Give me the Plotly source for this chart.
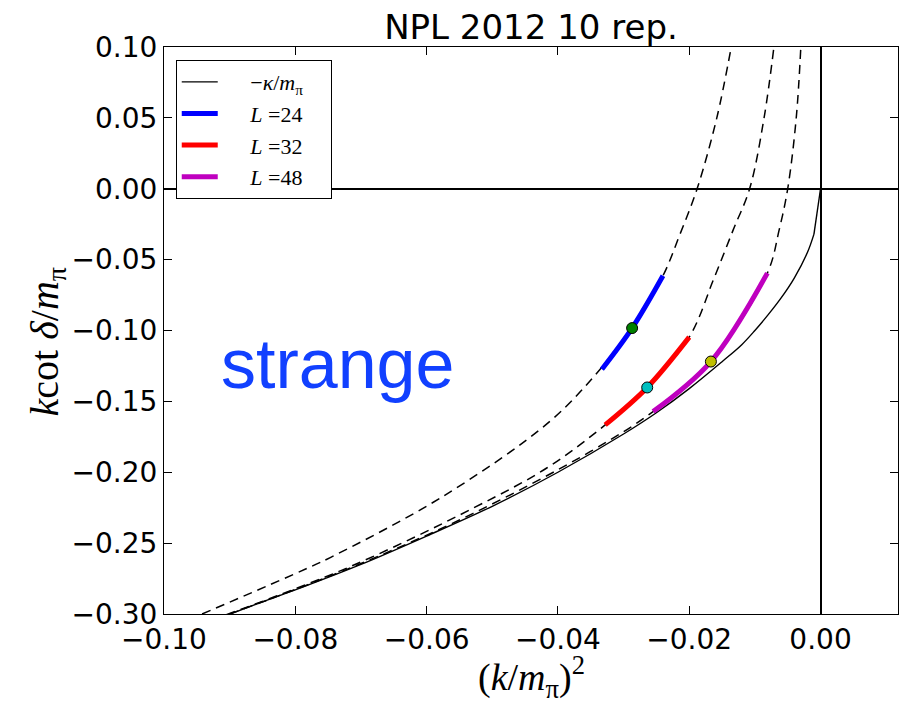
import plotly.graph_objects as go

# ---- data ----
# solid curve: -kappa/m_pi (smooth part, then the short straight piece to the origin)
kappa_x = [-0.0905, -0.085, -0.080, -0.070, -0.060, -0.050, -0.040, -0.030, -0.025,
           -0.020, -0.015, -0.012, -0.010, -0.008, -0.006, -0.004, -0.002, -0.001]
kappa_y = [-0.301, -0.2915, -0.283, -0.265, -0.245, -0.224, -0.200, -0.173, -0.158,
           -0.141, -0.122, -0.110, -0.100, -0.089, -0.077, -0.063, -0.045, -0.032]
kappa_end_x = [-0.001, 0.0]
kappa_end_y = [-0.032, 0.0]

# dashed finite-volume curves
l24_x = [-0.0942, -0.0800, -0.0746, -0.0575, -0.0412, -0.0336, -0.0287, -0.0240,
         -0.0214, -0.0188, -0.0158, -0.0136]
l24_y = [-0.300, -0.2715, -0.260, -0.217, -0.164, -0.1275, -0.0983, -0.0614,
         -0.032, 0.000, 0.050, 0.100]

l32_x = [-0.0905, -0.0716, -0.0529, -0.0417, -0.0328, -0.0264, -0.0200,
         -0.0163, -0.0133, -0.0108, -0.0086, -0.0071]
l32_y = [-0.3005, -0.2665, -0.2253, -0.197, -0.1666, -0.1402, -0.1047,
         -0.064, -0.029, 0.000, 0.050, 0.100]

l48_x = [-0.0900, -0.0711, -0.0529, -0.0351, -0.0255, -0.0167, -0.0081, -0.0063,
         -0.0050, -0.0037, -0.0030]
l48_y = [-0.300, -0.2665, -0.229, -0.1855, -0.1572, -0.1219, -0.0595, -0.029,
         0.000, 0.050, 0.100]

# thick segments (legend series)
seg24_x = [-0.0333, -0.0287, -0.0240]
seg24_y = [-0.1273, -0.0983, -0.0614]
seg32_x = [-0.0328, -0.0264, -0.0200]
seg32_y = [-0.1666, -0.1402, -0.1047]
seg48_x = [-0.0255, -0.0167, -0.0081]
seg48_y = [-0.1572, -0.1219, -0.0595]

# points on the segments
pt_x = [-0.0287, -0.0264, -0.0167]
pt_y = [-0.0983, -0.1402, -0.1219]
pt_colors = ["#008000", "#00bfbf", "#bfbf00"]

x_ticks = [-0.10, -0.08, -0.06, -0.04, -0.02, 0.00]
y_ticks = [-0.30, -0.25, -0.20, -0.15, -0.10, -0.05, 0.00, 0.05, 0.10]

SERIF = "Liberation Serif, DejaVu Serif, serif"
SANS = "DejaVu Sans, sans-serif"
NB = "&nbsp;" * 5

fig = go.Figure()

# dashed curves
for xs, ys in [(l24_x, l24_y), (l32_x, l32_y), (l48_x, l48_y)]:
    fig.add_trace(go.Scatter(x=xs, y=ys, mode="lines", showlegend=False,
                             line=dict(color="black", width=1.5, dash="9px,6px",
                                       shape="spline", smoothing=1.0),
                             hoverinfo="skip"))

# solid kappa curve
fig.add_trace(go.Scatter(x=kappa_x, y=kappa_y, mode="lines",
                         name=NB + "−<i>κ</i>/<i>m</i><sub>π</sub>" + "&nbsp;" * 4,
                         legendgroup="a",
                         line=dict(color="black", width=1.4, shape="spline")))
fig.add_trace(go.Scatter(x=kappa_end_x, y=kappa_end_y, mode="lines", showlegend=False,
                         line=dict(color="black", width=1.4), hoverinfo="skip"))

# thick segments
for xs, ys, col, lab, grp in [(seg24_x, seg24_y, "#0000ff", "24", "b"),
                              (seg32_x, seg32_y, "#ff0000", "32", "c"),
                              (seg48_x, seg48_y, "#bf00bf", "48", "d")]:
    fig.add_trace(go.Scatter(x=xs, y=ys, mode="lines",
                             name=NB + "<i>L</i> =" + lab, legendgroup=grp,
                             line=dict(color=col, width=5, shape="spline")))

# markers
fig.add_trace(go.Scatter(x=pt_x, y=pt_y, mode="markers", showlegend=False,
                         marker=dict(size=11, color=pt_colors,
                                     line=dict(color="black", width=1))))

axis_common = dict(
    showline=True, linecolor="black", linewidth=1, mirror="ticks",
    ticks="inside", ticklen=8, tickwidth=1, tickcolor="black",
    showgrid=False, zeroline=True, zerolinecolor="black", zerolinewidth=1.5,
    tickfont=dict(family=SANS, size=28, color="black"), tickformat=".2f",
)

fig.update_xaxes(range=[-0.1, 0.0118], tickvals=x_ticks, **axis_common)
fig.update_yaxes(range=[-0.30, 0.10], tickvals=y_ticks, **axis_common)

fig.update_layout(
    width=899, height=710,
    margin=dict(l=164, r=1, t=47, b=96),
    plot_bgcolor="white", paper_bgcolor="white",
    title=dict(text="NPL 2012 10 rep.", x=0.5, xref="paper", xanchor="center",
               y=0.962, yref="container", yanchor="middle",
               font=dict(family=SANS, size=34, color="black")),
    legend=dict(x=0.016, y=0.977, xanchor="left", yanchor="top",
                bgcolor="white", bordercolor="black", borderwidth=1,
                font=dict(family=SERIF, size=22, color="black"),
                itemwidth=36, tracegroupgap=0, traceorder="grouped"),
    annotations=[
        dict(text="strange", x=-0.0735, y=-0.1235, xref="x", yref="y",
             showarrow=False, xanchor="center", yanchor="middle",
             font=dict(family="Liberation Sans, Arial, sans-serif", size=70,
                       color="#1140ff")),
        dict(text="(<i>k</i>/<i>m</i><sub>π</sub>)<sup>2</sup>", x=0.5, y=-0.162,
             xref="paper", yref="paper", showarrow=False,
             xanchor="center", yanchor="bottom",
             font=dict(family=SERIF, size=38, color="black")),
        dict(text="<i>k</i>cot <i>δ</i>/<i>m</i><sub>π</sub>", x=-0.16, y=0.48,
             xref="paper", yref="paper", showarrow=False, textangle=-90,
             xanchor="center", yanchor="middle",
             font=dict(family=SERIF, size=40, color="black")),
    ],
)

fig.write_html("out.html")
